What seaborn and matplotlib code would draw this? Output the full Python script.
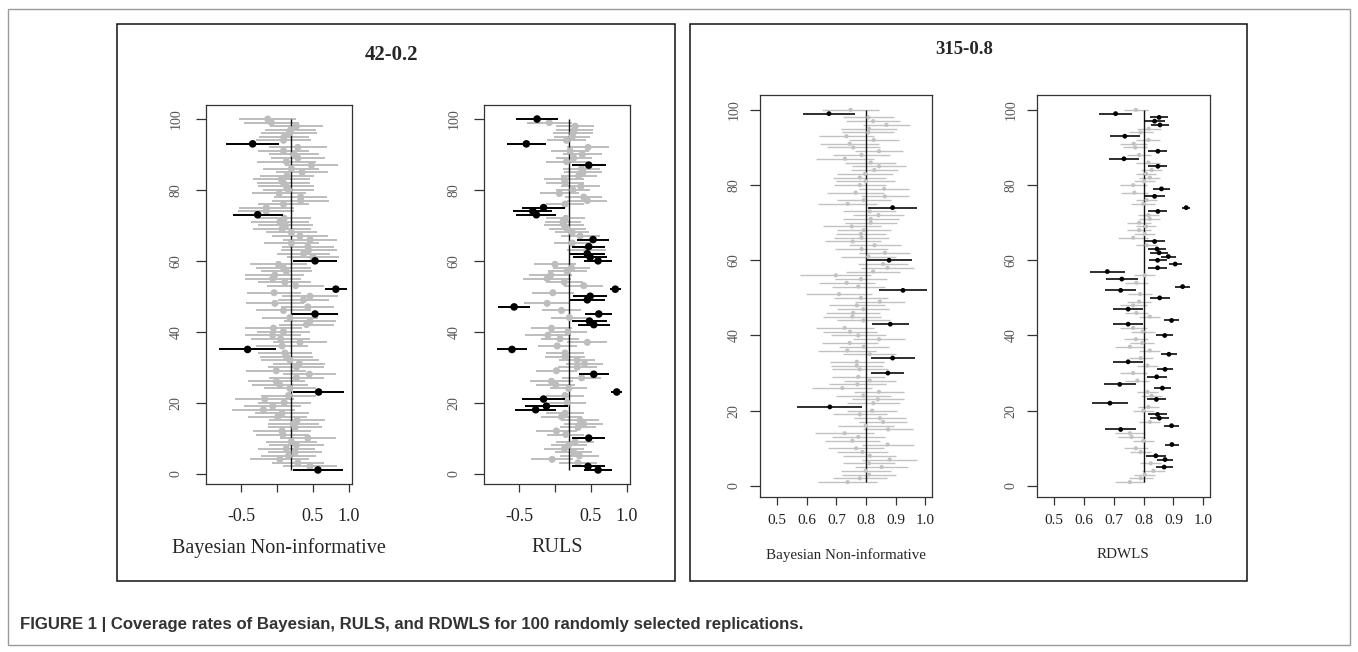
import numpy as np
import pandas as pd
import matplotlib
matplotlib.use("Agg")
import matplotlib.pyplot as plt
import seaborn as sns
from matplotlib.patches import Rectangle

sns.set_theme(style="white")
plt.rcParams['font.family'] = ['Liberation Serif', 'DejaVu Serif']

# replications, listed from top (100) to bottom (1)
replication = list(range(100, 0, -1))

# ---- panel "42-0.2" (true value 0.2) ----
true_42 = 0.2
bayes42_est = [
    -0.13, -0.08, 0.27, 0.19, 0.17, 0.10, 0.09, -0.34, 0.29, 0.09,
    0.24, 0.29, 0.13, 0.48, 0.20, 0.35, 0.14, 0.06, 0.09, 0.13,
    0.16, 0.03, 0.33, 0.33, 0.09, -0.15, -0.15, -0.27, 0.10, 0.04,
    0.12, 0.07, 0.20, 0.32, 0.46, 0.20, 0.43, 0.44, 0.37, 0.50,
    0.53, 0.02, 0.09, 0.13, -0.03, -0.06, 0.11, 0.26, 0.82, -0.04,
    0.46, 0.37, -0.03, 0.43, 0.09, 0.53, 0.18, 0.46, 0.41, -0.05,
    0.09, -0.06, 0.05, 0.32, 0.07, -0.41, 0.11, 0.13, 0.18, 0.31,
    0.27, -0.01, 0.45, 0.27, -0.01, 0.04, 0.18, 0.58, 0.16, -0.17,
    0.10, -0.06, -0.19, 0.07, 0.01, 0.28, 0.23, 0.25, 0.07, 0.08,
    0.43, 0.20, 0.27, 0.13, 0.25, 0.16, 0.04, 0.29, 0.46, 0.57]
bayes42_half = [
    0.40, 0.38, 0.37, 0.36, 0.39, 0.35, 0.38, 0.37, 0.40, 0.36,
    0.35, 0.38, 0.41, 0.37, 0.39, 0.36, 0.38, 0.40, 0.37, 0.39,
    0.36, 0.38, 0.37, 0.40, 0.35, 0.38, 0.39, 0.35, 0.37, 0.40,
    0.38, 0.41, 0.36, 0.39, 0.37, 0.38, 0.36, 0.39, 0.37, 0.36,
    0.31, 0.40, 0.38, 0.36, 0.41, 0.39, 0.37, 0.40, 0.15, 0.38,
    0.39, 0.36, 0.40, 0.37, 0.38, 0.32, 0.39, 0.36, 0.38, 0.40,
    0.37, 0.39, 0.41, 0.38, 0.36, 0.40, 0.38, 0.37, 0.40, 0.36,
    0.39, 0.42, 0.37, 0.38, 0.40, 0.39, 0.36, 0.36, 0.38, 0.41,
    0.37, 0.40, 0.44, 0.38, 0.41, 0.39, 0.36, 0.38, 0.40, 0.37,
    0.39, 0.36, 0.38, 0.40, 0.37, 0.39, 0.41, 0.36, 0.38, 0.35]
ruls42_est = [
    -0.25, -0.08, 0.28, 0.27, 0.25, 0.24, 0.16, -0.40, 0.46, 0.21,
    0.38, 0.26, 0.16, 0.47, 0.37, 0.39, 0.33, 0.13, 0.14, 0.36,
    0.25, 0.06, 0.40, 0.45, 0.14, -0.16, -0.31, -0.26, 0.15, 0.11,
    0.13, 0.17, 0.24, 0.35, 0.53, 0.24, 0.47, 0.44, 0.45, 0.49,
    0.60, 0.00, 0.23, 0.17, -0.06, -0.11, 0.13, 0.40, 0.84, -0.03,
    0.49, 0.45, -0.11, -0.57, 0.09, 0.61, 0.20, 0.48, 0.54, -0.05,
    0.18, -0.10, 0.07, 0.45, 0.03, -0.60, 0.14, 0.14, 0.31, 0.41,
    0.31, 0.02, 0.54, 0.37, -0.05, 0.01, 0.19, 0.86, 0.14, -0.16,
    0.17, -0.12, -0.27, 0.14, 0.09, 0.35, 0.40, 0.32, 0.02, 0.15,
    0.47, 0.28, 0.19, 0.13, 0.26, 0.34, -0.04, 0.32, 0.46, 0.60]
ruls42_half = [
    0.29, 0.31, 0.27, 0.26, 0.28, 0.25, 0.27, 0.27, 0.29, 0.26,
    0.27, 0.25, 0.28, 0.24, 0.26, 0.27, 0.25, 0.28, 0.26, 0.27,
    0.24, 0.27, 0.26, 0.28, 0.26, 0.30, 0.27, 0.28, 0.27, 0.25,
    0.28, 0.26, 0.24, 0.27, 0.22, 0.26, 0.23, 0.27, 0.24, 0.24,
    0.20, 0.29, 0.26, 0.27, 0.30, 0.33, 0.26, 0.27, 0.08, 0.29,
    0.235, 0.24, 0.32, 0.22, 0.27, 0.19, 0.26, 0.24, 0.22, 0.29,
    0.27, 0.32, 0.26, 0.28, 0.27, 0.21, 0.26, 0.28, 0.25, 0.26,
    0.27, 0.28, 0.21, 0.27, 0.30, 0.27, 0.26, 0.075, 0.27, 0.30,
    0.26, 0.30, 0.29, 0.27, 0.28, 0.26, 0.27, 0.25, 0.28, 0.26,
    0.23, 0.27, 0.25, 0.28, 0.26, 0.27, 0.29, 0.26, 0.23, 0.19]

# ---- panel "315-0.8" (true value 0.8) ----
true_315 = 0.8
bayes315_est = [
    0.748, 0.675, 0.808, 0.824, 0.869, 0.810, 0.808, 0.734, 0.826, 0.745,
    0.757, 0.844, 0.785, 0.729, 0.816, 0.844, 0.828, 0.797, 0.779, 0.799,
    0.779, 0.861, 0.765, 0.864, 0.793, 0.738, 0.890, 0.813, 0.842, 0.816,
    0.816, 0.752, 0.793, 0.783, 0.785, 0.755, 0.829, 0.785, 0.864, 0.808,
    0.878, 0.858, 0.873, 0.824, 0.698, 0.783, 0.735, 0.774, 0.925, 0.709,
    0.783, 0.847, 0.769, 0.791, 0.757, 0.754, 0.791, 0.882, 0.728, 0.746,
    0.774, 0.844, 0.745, 0.793, 0.737, 0.813, 0.890, 0.769, 0.769, 0.779,
    0.874, 0.774, 0.813, 0.771, 0.720, 0.844, 0.791, 0.840, 0.825, 0.678,
    0.821, 0.779, 0.847, 0.858, 0.799, 0.875, 0.728, 0.774, 0.754, 0.873,
    0.767, 0.788, 0.813, 0.880, 0.810, 0.853, 0.799, 0.810, 0.779, 0.738]
bayes315_half = [
    0.095, 0.088, 0.085, 0.090, 0.080, 0.095, 0.088, 0.092, 0.085, 0.100,
    0.090, 0.082, 0.095, 0.098, 0.087, 0.090, 0.080, 0.095, 0.090, 0.100,
    0.088, 0.085, 0.095, 0.082, 0.092, 0.100, 0.083, 0.090, 0.085, 0.095,
    0.088, 0.098, 0.090, 0.085, 0.092, 0.095, 0.088, 0.090, 0.086, 0.092,
    0.076, 0.085, 0.090, 0.092, 0.120, 0.088, 0.095, 0.090, 0.080, 0.110,
    0.090, 0.085, 0.095, 0.088, 0.092, 0.098, 0.090, 0.063, 0.098, 0.090,
    0.092, 0.088, 0.095, 0.085, 0.098, 0.090, 0.074, 0.092, 0.088, 0.095,
    0.056, 0.090, 0.088, 0.095, 0.102, 0.085, 0.092, 0.088, 0.090, 0.110,
    0.085, 0.092, 0.088, 0.082, 0.095, 0.085, 0.100, 0.090, 0.092, 0.088,
    0.095, 0.085, 0.090, 0.092, 0.088, 0.090, 0.085, 0.090, 0.092, 0.100]
rdwls315_est = [
    0.774, 0.706, 0.852, 0.837, 0.855, 0.817, 0.790, 0.737, 0.816, 0.767,
    0.772, 0.848, 0.785, 0.734, 0.816, 0.848, 0.827, 0.808, 0.821, 0.802,
    0.765, 0.860, 0.769, 0.837, 0.810, 0.799, 0.943, 0.848, 0.816, 0.821,
    0.785, 0.808, 0.785, 0.804, 0.765, 0.837, 0.810, 0.845, 0.852, 0.883,
    0.847, 0.906, 0.847, 0.678, 0.804, 0.727, 0.776, 0.931, 0.723, 0.788,
    0.854, 0.785, 0.765, 0.748, 0.776, 0.821, 0.894, 0.748, 0.765, 0.797,
    0.871, 0.774, 0.796, 0.754, 0.821, 0.885, 0.790, 0.748, 0.813, 0.872,
    0.765, 0.844, 0.779, 0.720, 0.863, 0.813, 0.827, 0.843, 0.687, 0.816,
    0.799, 0.847, 0.853, 0.821, 0.894, 0.723, 0.754, 0.760, 0.799, 0.895,
    0.774, 0.790, 0.841, 0.872, 0.824, 0.869, 0.833, 0.804, 0.790, 0.754]
rdwls315_half = [
    0.040, 0.056, 0.029, 0.035, 0.031, 0.040, 0.040, 0.050, 0.040, 0.045,
    0.040, 0.032, 0.040, 0.051, 0.040, 0.032, 0.035, 0.035, 0.035, 0.035,
    0.045, 0.030, 0.045, 0.035, 0.035, 0.040, 0.013, 0.032, 0.035, 0.035,
    0.040, 0.035, 0.040, 0.035, 0.050, 0.035, 0.035, 0.030, 0.030, 0.026,
    0.030, 0.022, 0.032, 0.059, 0.035, 0.054, 0.040, 0.025, 0.053, 0.040,
    0.033, 0.040, 0.045, 0.050, 0.040, 0.035, 0.025, 0.050, 0.045, 0.040,
    0.029, 0.040, 0.040, 0.050, 0.035, 0.026, 0.040, 0.050, 0.035, 0.026,
    0.045, 0.034, 0.040, 0.053, 0.028, 0.035, 0.035, 0.033, 0.059, 0.035,
    0.035, 0.031, 0.032, 0.035, 0.025, 0.053, 0.050, 0.045, 0.035, 0.024,
    0.040, 0.035, 0.034, 0.026, 0.035, 0.029, 0.040, 0.035, 0.040, 0.050]

for arr in [bayes42_est, bayes42_half, ruls42_est, ruls42_half, bayes315_est,
            bayes315_half, rdwls315_est, rdwls315_half]:
    assert len(arr) == 100

y_ticks = [0, 20, 40, 60, 80, 100]
x_ticks_42 = [-0.5, 0.0, 0.5, 1.0]
x_ticklabels_42 = ["-0.5", "", "0.5", "1.0"]
x_ticks_315 = [0.5, 0.6, 0.7, 0.8, 0.9, 1.0]
x_ticklabels_315 = ["0.5", "0.6", "0.7", "0.8", "0.9", "1.0"]

W, H = 1358, 652
fig = plt.figure(figsize=(W / 100, H / 100), dpi=100)
fig.patch.set_facecolor("white")


def px_rect(x0, y0, x1, y1):
    return [x0 / W, 1 - y1 / H, (x1 - x0) / W, (y1 - y0) / H]


def caterpillar(ax, est, half, truth, xlim, xticks, xticklabels, small):
    df = pd.DataFrame({"rep": replication, "est": est, "half": half})
    df["lo"] = df["est"] - df["half"]
    df["hi"] = df["est"] + df["half"]
    df["covers"] = np.where((df["lo"] <= truth) & (df["hi"] >= truth), "yes", "no")
    grey = "#c2c2c2" if small else "#bdbdbd"
    lw_g, lw_b = (1.0, 1.15) if small else (1.4, 1.4)
    s_g, s_b = (9, 12) if small else (26, 30)
    g = df[df["covers"] == "yes"]
    b = df[df["covers"] == "no"]
    ax.hlines(g["rep"], g["lo"], g["hi"], color=grey, lw=lw_g, zorder=1)
    ax.vlines(truth, 1, 100, color="#111111", lw=1.0, zorder=2)
    sns.scatterplot(data=g, x="est", y="rep", color=grey, s=s_g,
                    edgecolor="none", linewidth=0, ax=ax, zorder=3, legend=False)
    ax.hlines(b["rep"], b["lo"], b["hi"], color="black", lw=lw_b, zorder=4)
    sns.scatterplot(data=b, x="est", y="rep", color="black", s=s_b,
                    edgecolor="none", linewidth=0, ax=ax, zorder=5, legend=False)
    ax.set_xlim(*xlim)
    ax.set_ylim(-2.96, 103.96)
    ax.set_xticks(xticks)
    ax.set_xticklabels(xticklabels, fontsize=11 if small else 13, color="#222222")
    ax.set_yticks(y_ticks)
    ax.set_yticklabels([str(v) for v in y_ticks], rotation=90, va="center",
                       fontsize=10, color="#555555")
    ax.set_xlabel("")
    ax.set_ylabel("")
    for sp in ax.spines.values():
        sp.set_visible(True)
        sp.set_color("#333333")
        sp.set_linewidth(0.9)
    ax.tick_params(axis="x", direction="out", length=6, width=0.9, color="#333333",
                   pad=6 if small else 11, bottom=True)
    ax.tick_params(axis="y", direction="out", length=7, width=0.9, color="#333333",
                   pad=7 if small else 10, left=True)
    ax.set_facecolor("white")


ax1 = fig.add_axes(px_rect(206, 105, 352, 484))
ax2 = fig.add_axes(px_rect(484, 105, 630, 484))
ax3 = fig.add_axes(px_rect(760, 95, 932, 497))
ax4 = fig.add_axes(px_rect(1037, 95, 1210, 497))

caterpillar(ax1, bayes42_est, bayes42_half, true_42, (-0.99, 1.045),
            x_ticks_42, x_ticklabels_42, False)
caterpillar(ax2, ruls42_est, ruls42_half, true_42, (-0.99, 1.045),
            x_ticks_42, x_ticklabels_42, False)
caterpillar(ax3, bayes315_est, bayes315_half, true_315, (0.442, 1.023),
            x_ticks_315, x_ticklabels_315, True)
caterpillar(ax4, rdwls315_est, rdwls315_half, true_315, (0.442, 1.023),
            x_ticks_315, x_ticklabels_315, True)

# frames
def frame(x0, y0, x1, y1, color, lw):
    fig.add_artist(Rectangle((x0 / W, 1 - y1 / H), (x1 - x0) / W, (y1 - y0) / H,
                             transform=fig.transFigure, fill=False,
                             edgecolor=color, linewidth=lw))

frame(8, 9, 1350, 645, "#9a9a9a", 1.0)
frame(117, 24, 675, 581, "#111111", 1.1)
frame(690, 24, 1247, 581, "#111111", 1.1)

def ftext(x, y, s, **kw):
    fig.text(x / W, 1 - y / H, s, **kw)

ftext(392, 55, "42-0.2", ha="center", va="center", fontsize=15, fontweight="bold")
ftext(964, 50, "315-0.8", ha="center", va="center", fontsize=13.5, fontweight="bold")
ftext(279, 548, "Bayesian Non-informative", ha="center", va="center", fontsize=14.5)
ftext(557, 548, "RULS", ha="center", va="center", fontsize=14.5)
ftext(846, 555, "Bayesian Non-informative", ha="center", va="center", fontsize=10.8)
ftext(1123, 555, "RDWLS", ha="center", va="center", fontsize=10.8)
ftext(20, 625, "FIGURE 1 | Coverage rates of Bayesian, RULS, and RDWLS for 100 randomly selected replications.",
      ha="left", va="center", fontsize=12.1, fontweight="bold", color="#333333",
      family=["Liberation Sans", "DejaVu Sans"])

fig.savefig("out.png", dpi=100, facecolor="white")
